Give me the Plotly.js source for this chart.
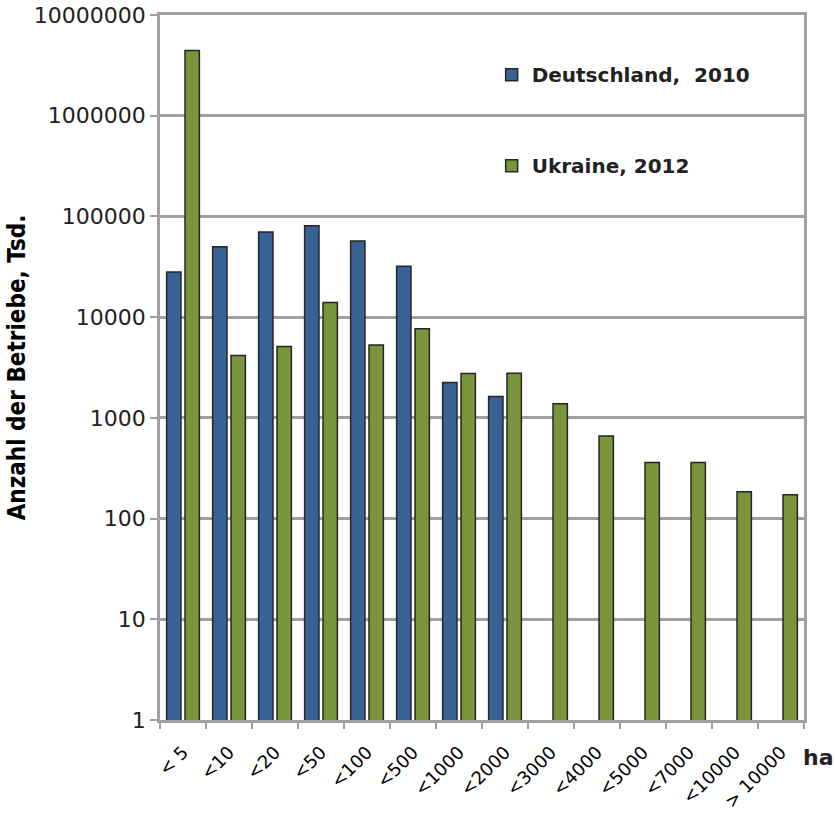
<!DOCTYPE html>
<html><head><meta charset="utf-8">
<script src="https://cdn.plot.ly/plotly-3.0.1.min.js"></script>
<style>body{margin:0;background:#fff}#chart{width:835px;height:820px}</style>
</head><body><div id="chart"></div>
<script>
const categories = ["< 5","<10","<20","<50","<100","<500","<1000","<2000","<3000","<4000","<5000","<7000","<10000","> 10000"];
const deutschland2010 = [28000,50000,70000,81000,57000,32000,2250,1630,null,null,null,null,null,null];
const ukraine2012 = [4430000,4150,5100,14000,5300,7650,2750,2770,1380,660,360,360,185,172];
const yTickVals = [1,10,100,1000,10000,100000,1000000,10000000];
const yTickText = ["1","10","100","1000","10000","100000","1000000","10000000"];

const traces = [
  {type:"bar", name:"Deutschland,  2010", x:categories, y:deutschland2010, legendgroup:"de",
   marker:{color:"#386194", line:{color:"#262626", width:1.5}}},
  {type:"bar", name:"Ukraine, 2012", x:categories, y:ukraine2012, legendgroup:"ua",
   marker:{color:"#78953b", line:{color:"#262626", width:1.5}}}
];
const layout = {
  width:835, height:820,
  margin:{l:160, r:31, t:15, b:100},
  paper_bgcolor:"#fff", plot_bgcolor:"#fff",
  barmode:"group", bargap:0.2, bargroupgap:0.22,
  font:{family:"DejaVu Sans, Verdana, sans-serif", color:"#000"},
  showlegend:true,
  legend:{x:0.515, y:0.943, xanchor:"left", yanchor:"top", bgcolor:"rgba(0,0,0,0)",
    font:{size:20, family:"DejaVu Sans, Verdana, sans-serif", weight:"bold", color:"#222"},
    tracegroupgap:62, itemwidth:30},
  xaxis:{type:"category", tickson:"boundaries", ticks:"outside", ticklen:6, tickcolor:"#a0a0a0",
    tickwidth:2, tickangle:-45, tickfont:{size:18, color:"#000"}, ticklabelstandoff:12,
    showline:true, linecolor:"#a0a0a0", linewidth:2.5, mirror:true, showgrid:false},
  yaxis:{type:"log", range:[0,7], tickvals:yTickVals, ticktext:yTickText,
    ticks:"outside", ticklen:7, tickcolor:"#a0a0a0", tickwidth:2,
    tickfont:{size:22, color:"#222"},
    showgrid:true, gridcolor:"#a0a0a0", gridwidth:2.5,
    showline:true, linecolor:"#a0a0a0", linewidth:2.5, mirror:true, zeroline:false,
    title:{text:"Anzahl der Betriebe, Tsd.", standoff:2,
      font:{size:24, family:"DejaVu Sans Condensed, DejaVu Sans, sans-serif", weight:"bold", color:"#000"}}},
  annotations:[{text:"ha", xref:"paper", yref:"paper", x:0.996, y:-0.0525, xanchor:"left", yanchor:"middle",
    showarrow:false, font:{size:22, weight:"bold", family:"DejaVu Sans, sans-serif", color:"#222"}}]
};
Plotly.newPlot("chart", traces, layout, {displayModeBar:false});
</script></body></html>
